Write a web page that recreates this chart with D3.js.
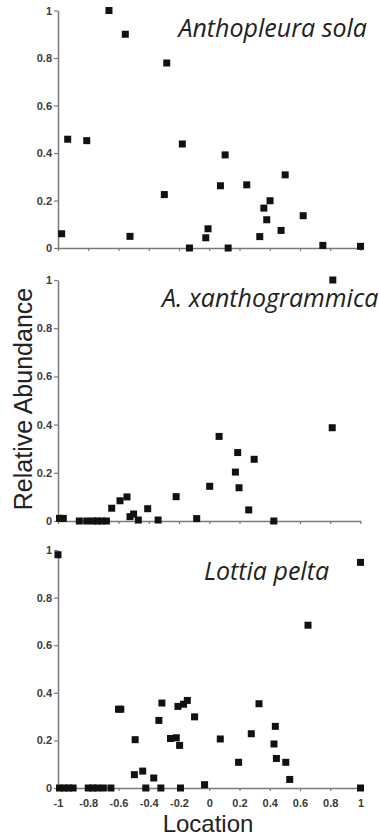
<!DOCTYPE html>
<html>
<head>
<meta charset="utf-8">
<script src="https://cdn.jsdelivr.net/npm/d3@7"></script>
<style>
  html, body { margin: 0; padding: 0; background: #fff; }
  svg { display: block; }
</style>
</head>
<body>
<div id="chart"></div>
<script>
// Relative abundance vs. location, one panel per species
const species = ["Anthopleura sola", "A. xanthogrammica", "Lottia pelta"];

const solaX = [-0.976, -0.936, -0.81, -0.663, -0.555, -0.524, -0.281, -0.297, -0.178, -0.131, -0.023, -0.008,
  0.074, 0.105, 0.125, 0.248, 0.334, 0.361, 0.38, 0.402, 0.475, 0.502, 0.621, 0.751, 1.0];
const solaY = [0.06, 0.458, 0.452, 1.0, 0.9, 0.049, 0.779, 0.225, 0.438, 0.0, 0.043, 0.081,
  0.262, 0.392, 0.0, 0.266, 0.048, 0.168, 0.119, 0.199, 0.074, 0.308, 0.136, 0.011, 0.007];

const xanthoX = [-0.99, -0.965, -0.859, -0.81, -0.77, -0.74, -0.71, -0.68, -0.645, -0.59, -0.544, -0.524,
  -0.5, -0.469, -0.407, -0.338, -0.219, -0.083, 0.003, 0.065, 0.173, 0.188, 0.197, 0.261, 0.297, 0.427, 0.813, 0.817];
const xanthoY = [0.011, 0.011, 0.0, 0.0, 0.0, 0.0, 0.0, 0.0, 0.053, 0.084, 0.1, 0.018,
  0.029, 0.004, 0.051, 0.004, 0.101, 0.01, 0.144, 0.351, 0.203, 0.284, 0.138, 0.046, 0.256, 0.0, 0.387, 1.0];

const lottiaX = [-1.0, -0.99, -0.96, -0.93, -0.9, -0.8, -0.77, -0.74, -0.7, -0.65, -0.6, -0.585,
  -0.49, -0.495, -0.44, -0.42, -0.367, -0.333, -0.313, -0.32, -0.256, -0.218, -0.196, -0.207, -0.17, -0.145,
  -0.19, -0.097, -0.031, 0.073, 0.194, 0.278, 0.329, 0.428, 0.437, 0.444, 0.506, 0.532, 0.653, 1.0, 1.0];
const lottiaY = [0.98, 0.0, 0.0, 0.0, 0.0, 0.0, 0.0, 0.0, 0.0, 0.0, 0.331, 0.331,
  0.203, 0.056, 0.071, 0.0, 0.042, 0.284, 0.357, 0.0, 0.208, 0.211, 0.179, 0.343, 0.352, 0.368,
  0.0, 0.299, 0.014, 0.206, 0.108, 0.228, 0.354, 0.185, 0.259, 0.124, 0.108, 0.036, 0.684, 0.948, 0.0];

const yTicks = [0, 0.2, 0.4, 0.6, 0.8, 1];
const xTicks = [-1, -0.8, -0.6, -0.4, -0.2, 0, 0.2, 0.4, 0.6, 0.8, 1];

const width = 379;
const height = 839;

const panels = [
  { name: species[0], xs: solaX, ys: solaY, top: 10.5, bottom: 248, titleX: 367, titleY: 37, anchor: "end" },
  { name: species[1], xs: xanthoX, ys: xanthoY, top: 280, bottom: 521, titleX: 162, titleY: 307, anchor: "start" },
  { name: species[2], xs: lottiaX, ys: lottiaY, top: 550, bottom: 788, titleX: 204, titleY: 580, anchor: "start" },
];

const svg = d3.select("#chart")
  .append("svg")
  .attr("width", width)
  .attr("height", height);

const x = d3.scaleLinear().domain([-1, 1]).range([58, 360.5]);
const axisColor = "#7a7a7a";
const tickFont = "'Liberation Sans', Arial, sans-serif";
const markSize = 7;

panels.forEach((p, i) => {
  const y = d3.scaleLinear().domain([0, 1]).range([p.bottom, p.top]);
  const g = svg.append("g");

  // y axis
  g.append("g")
    .attr("transform", `translate(${x(-1)},0)`)
    .call(
      d3.axisLeft(y)
        .tickValues(yTicks)
        .tickFormat((d) => String(d))
        .tickSize(4)
        .tickSizeOuter(0)
        .tickPadding(2),
    )
    .call((a) => a.select(".domain").attr("stroke", axisColor).attr("stroke-width", 1.5))
    .call((a) => a.selectAll(".tick line").attr("stroke", axisColor).attr("stroke-width", 1.2))
    .call((a) => a.selectAll("text")
      .attr("fill", "#3a3a3a")
      .attr("font-size", 11)
      .attr("font-weight", "bold")
      .attr("font-family", tickFont));

  // x axis, labels only on the bottom panel
  const last = i === panels.length - 1;
  g.append("g")
    .attr("transform", `translate(0,${y(0)})`)
    .call(
      d3.axisBottom(x)
        .tickValues(xTicks)
        .tickFormat((d) => (last ? String(d) : ""))
        .tickSize(3)
        .tickSizeOuter(0)
        .tickPadding(8),
    )
    .call((a) => a.select(".domain").attr("stroke", axisColor).attr("stroke-width", 1.5))
    .call((a) => a.selectAll(".tick line").attr("stroke", axisColor).attr("stroke-width", 1.2))
    .call((a) => a.selectAll("text")
      .attr("fill", "#3a3a3a")
      .attr("font-size", 11)
      .attr("font-weight", "bold")
      .attr("font-family", tickFont));

  // species name
  g.append("text")
    .attr("x", p.titleX)
    .attr("y", p.titleY)
    .attr("text-anchor", p.anchor)
    .attr("font-family", "'Open Sans', Lato, sans-serif")
    .attr("font-style", "italic")
    .attr("font-size", 25)
    .attr("fill", "#222")
    .text(p.name);

  // points
  g.selectAll("rect.pt")
    .data(p.xs.map((v, k) => [v, p.ys[k]]))
    .enter()
    .append("rect")
    .attr("class", "pt")
    .attr("x", (d) => x(d[0]) - markSize / 2)
    .attr("y", (d) => y(d[1]) - markSize / 2)
    .attr("width", markSize)
    .attr("height", markSize)
    .attr("fill", "#111");
});

// axis titles
svg.append("text")
  .attr("transform", "translate(32,399) rotate(-90)")
  .attr("text-anchor", "middle")
  .attr("font-family", "'Liberation Sans', Arial, sans-serif")
  .attr("font-size", 25)
  .attr("fill", "#222")
  .text("Relative Abundance");

svg.append("text")
  .attr("x", 208)
  .attr("y", 832)
  .attr("text-anchor", "middle")
  .attr("font-family", "'Liberation Sans', Arial, sans-serif")
  .attr("font-size", 24)
  .attr("fill", "#222")
  .text("Location");
</script>
</body>
</html>
